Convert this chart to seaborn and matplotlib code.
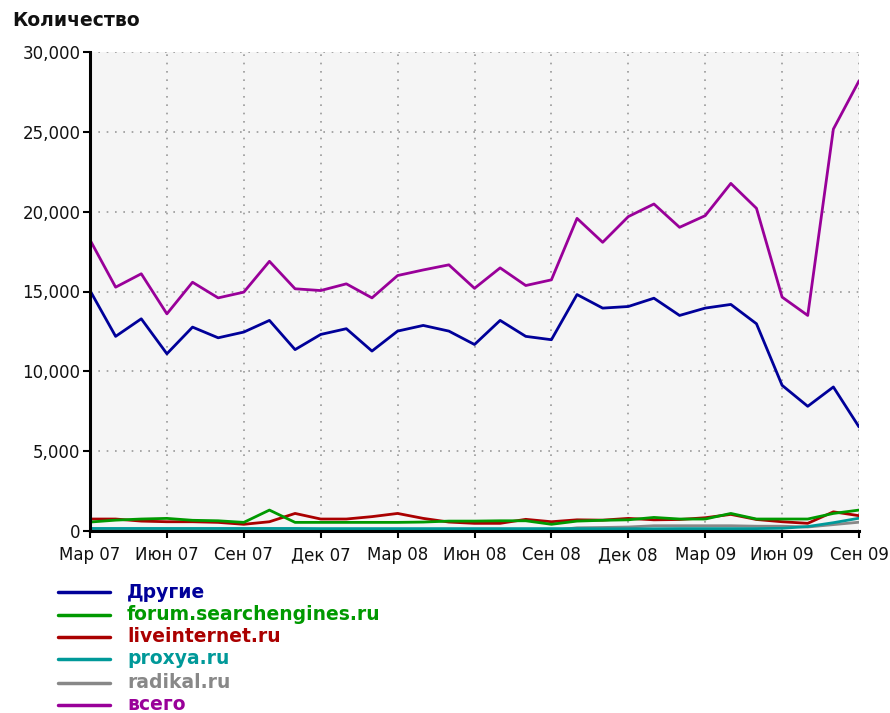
import matplotlib
matplotlib.use("Agg")
import matplotlib.pyplot as plt
import matplotlib.ticker as mticker
from matplotlib.lines import Line2D
import seaborn as sns
import pandas as pd

# Monthly visits by referring source, March 2007 - September 2009
months = list(range(31))
tick_positions = list(range(0, 31, 3))
tick_labels = ["Мар 07", "Июн 07", "Сен 07", "Дек 07", "Мар 08", "Июн 08",
               "Сен 08", "Дек 08", "Мар 09", "Июн 09", "Сен 09"]

drugie = [15060, 12190, 13290, 11100, 12770, 12100, 12460, 13190, 11360, 12310,
          12670, 11270, 12520, 12875, 12520, 11680, 13190, 12190, 11980, 14810,
          13960, 14060, 14580, 13500, 13960, 14190, 12980, 9125, 7810, 9020, 6520]
forum = [560, 680, 750, 790, 670, 640, 540, 1310, 540, 540,
         540, 540, 540, 560, 620, 620, 640, 640, 420, 620,
         670, 700, 850, 750, 750, 1100, 750, 750, 750, 1100, 1310]
liveinternet = [750, 750, 620, 580, 580, 540, 420, 580, 1100, 750,
                750, 900, 1100, 790, 560, 480, 480, 730, 580, 700,
                680, 790, 700, 720, 830, 1040, 720, 580, 480, 1200, 960]
proxya = [160, 160, 160, 160, 160, 160, 160, 160, 160, 150,
          150, 150, 150, 150, 150, 150, 150, 150, 150, 150,
          140, 140, 140, 150, 150, 150, 150, 170, 280, 520, 800]
radikal = [30, 30, 30, 30, 30, 30, 30, 30, 30, 30,
           30, 30, 30, 30, 30, 30, 30, 30, 30, 200,
           220, 250, 330, 330, 330, 330, 300, 300, 250, 400, 550]
vsego = [18230, 15270, 16110, 13600, 15580, 14600, 14960, 16890, 15170, 15060,
         15480, 14600, 16000, 16350, 16670, 15200, 16480, 15375, 15730, 19580,
         18080, 19690, 20480, 19020, 19750, 21770, 20210, 14650, 13500, 25170, 28190]

series_names = ["Другие", "forum.searchengines.ru", "liveinternet.ru",
                "proxya.ru", "radikal.ru", "всего"]
series_colors = ["#000099", "#009900", "#aa0000", "#009999", "#888888", "#990099"]
series_values = [drugie, forum, liveinternet, proxya, radikal, vsego]

frames = []
for name, vals in zip(series_names, series_values):
    frames.append(pd.DataFrame({"month": months, "value": vals, "source": name}))
df = pd.concat(frames, ignore_index=True)

sns.set_theme(style="white")
plt.rcParams["font.family"] = ["DejaVu Sans"]

W, H = 890, 713
fig = plt.figure(figsize=(W / 100, H / 100), dpi=100)
ax = fig.add_axes([90 / W, 1 - 531 / H, (859 - 90) / W, (531 - 52) / H])
ax.set_facecolor("#f5f5f5")

draw_order = ["radikal.ru", "proxya.ru", "liveinternet.ru",
              "forum.searchengines.ru", "Другие", "всего"]
palette = dict(zip(series_names, series_colors))
sns.lineplot(data=df, x="month", y="value", hue="source", hue_order=draw_order,
             palette=palette, linewidth=2.0, ax=ax, legend=False,
             estimator=None, zorder=3)

ax.set_xlim(0, 30)
ax.set_ylim(0, 30000)
ax.set_xticks(tick_positions)
ax.set_xticklabels(tick_labels)
ax.set_yticks(range(0, 30001, 5000))
ax.yaxis.set_major_formatter(mticker.FuncFormatter(lambda v, p: f"{int(v):,}"))
ax.set_xlabel("")
ax.set_ylabel("")

ax.grid(True, color="#999999", linestyle=(0, (1, 4)), linewidth=1.2, zorder=1)
for side in ["top", "right"]:
    ax.spines[side].set_visible(False)
for side in ["left", "bottom"]:
    ax.spines[side].set_visible(True)
    ax.spines[side].set_color("black")
    ax.spines[side].set_linewidth(2.2)
    ax.spines[side].set_zorder(4)

ax.tick_params(axis="both", direction="out", length=5, width=1.5, color="black",
               labelsize=12, labelcolor="#111111", left=True, bottom=True)
ax.tick_params(axis="x", pad=6)
ax.tick_params(axis="y", pad=2)

fig.text(12 / W, 1 - 20 / H, "Количество", fontsize=13.5, fontweight="bold",
         ha="left", va="center", color="#111111")

# Key under the plot: a short coloured stroke and the source name in its colour
row_y = [592, 615, 637, 659, 683, 705]
for name, color, y in zip(series_names, series_colors, row_y):
    fig.add_artist(Line2D([58 / W, 110 / W], [1 - y / H, 1 - y / H],
                          color=color, linewidth=2.5, transform=fig.transFigure))
    fig.text(127 / W, 1 - y / H, name, color=color, fontsize=13.5,
             fontweight="bold", ha="left", va="center")

fig.savefig("out.png", dpi=100)
